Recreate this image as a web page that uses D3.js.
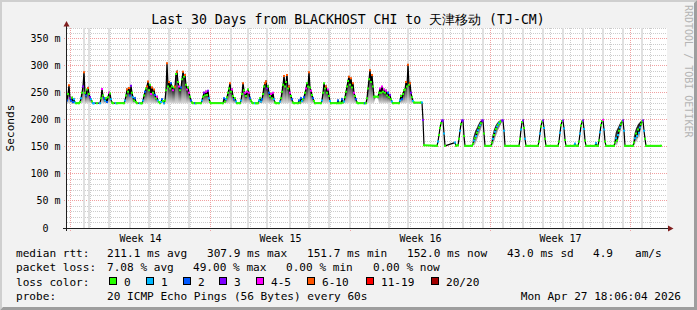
<!DOCTYPE html>
<html><head><meta charset="utf-8">
<script src="https://cdn.jsdelivr.net/npm/d3@7/dist/d3.min.js"></script>
<style>
html,body{margin:0;padding:0;background:#f2f2f2;}
svg{display:block;}
text{font-family:"DejaVu Sans Mono",monospace;fill:#000;}
</style></head><body>
<svg id="c" width="697" height="310"></svg>
<script>
// ---------------- data ----------------
const title = "Last 30 Days from BLACKHOST CHI to 天津移动 (TJ-CM)";
const yTicks = [0, 50, 100, 150, 200, 250, 300, 350];
const lossLevels = [0, 1, 2, 3, 5, 10, 19, 20];
const lossLabels = ["0", "1", "2", "3", "4-5", "6-10", "11-19", "20/20"];
const lossColors = ["#26ff00", "#00b8ff", "#0059ff", "#7e00ff", "#ff00ff", "#ff5500", "#ff0000", "#a10000"];

// rows of the RRA: one step = 72 minutes since graph start
const step = [
  0,1,2,3,4,5,6,7,8,9,12,
  13,14,15,16,17,18,19,20,21,22,23,24,25,26,27,30,33,
  34,35,36,37,38,39,40,41,42,43,44,45,46,49,50,57,
  58,59,60,61,62,63,64,65,66,67,68,69,70,73,74,75,
  76,77,78,79,80,81,82,83,84,85,86,87,88,89,90,91,92,93,94,95,96,97,98,
  99,100,101,102,103,104,105,106,107,108,109,110,111,112,113,114,115,116,117,118,119,120,121,122,123,124,125,126,128,129,134,
  135,136,137,138,139,140,141,142,143,144,156,
  157,158,159,160,161,162,163,164,165,166,167,168,169,170,173,
  174,175,176,177,178,179,180,181,182,183,184,185,186,188,189,191,192,193,194,195,
  196,197,198,199,200,201,202,203,204,205,206,207,208,209,212,
  213,214,215,216,217,218,219,220,221,222,223,224,225,226,227,231,232,233,234,235,236,237,
  238,239,240,241,242,243,244,245,246,247,248,254,
  255,256,257,258,259,260,261,262,263,264,270,271,272,273,274,275,276,277,
  278,279,280,281,282,283,284,285,286,287,288,289,290,291,297,298,299,
  300,301,302,303,304,305,306,307,308,311,312,313,314,315,316,317,318,319,320,321,322,323,324,325,326,332,
  333,334,335,336,337,338,339,340,341,342,343,344,345,346,347,354,355,356,357,
  370,371,372,373,374,375,376,377,378,
  388,389,391,392,393,394,395,396,397,398,
  405,406,407,408,409,410,411,412,413,414,415,416,417,418,
  424,425,426,427,428,429,430,431,432,433,434,435,436,437,438,
  452,453,454,455,456,457,458,459,
  471,472,473,474,475,476,477,478,479,
  491,492,493,494,495,496,497,498,499,507,508,509,
  511,512,513,514,515,516,517,518,519,528,529,530,
  531,532,533,534,535,536,537,538,539,
  547,548,549,550,551,552,553,554,555,556,557,558,
  566,567,568,569,570,571,572,573,574,575,576,577,578,579,594
];
// median rtt (ms)
const median = [
  236,248,264,240,236,241,233,238,232,231,231,
  233,240,250,262,288,250,245,256,259,248,242,238,234,231,231,231,231,
  240,257,245,240,236,240,233,242,250,249,238,232,231,231,231,231,
  236,245,256,252,259,245,263,250,242,236,240,233,231,231,231,231,
  236,245,252,258,262,271,255,265,248,260,250,256,246,240,243,236,233,231,233,238,235,231,236,
  255,305,262,270,258,268,262,255,260,262,285,289,270,262,255,260,275,289,280,283,265,256,260,250,243,236,232,231,231,231,231,
  236,243,250,245,252,246,254,240,233,231,231,
  240,234,238,242,250,258,268,252,256,244,238,240,234,231,231,
  236,248,268,255,250,244,252,256,250,240,236,232,231,231,231,231,236,240,234,238,
  248,262,268,271,258,262,250,244,248,240,250,238,232,231,231,
  234,240,252,265,281,262,270,283,258,262,250,244,238,232,231,231,236,232,240,235,238,242,
  250,258,268,262,288,260,254,246,240,235,231,231,
  236,250,268,258,262,250,256,244,235,231,231,236,231,232,231,238,232,234,
  242,252,262,272,280,265,277,260,268,250,244,238,232,231,231,231,231,
  240,258,275,292,270,283,262,243,243,243,250,258,250,262,252,256,250,254,245,250,242,246,238,234,231,231,
  236,244,238,248,255,256,270,262,302,265,268,250,242,235,232,232,232,200,153,
  152,160,172,185,194,199,199,175,152,
  158,152,153,165,180,192,199,199,170,152,
  152,156,162,166,170,176,181,186,190,194,199,199,175,152,
  152,158,165,172,178,183,188,191,194,196,198,199,199,180,152,
  152,165,182,196,199,185,165,152,
  152,160,175,188,197,199,185,165,152,
  152,160,176,190,198,199,184,163,152,152,156,152,
  152,160,175,189,197,199,183,162,152,152,157,152,
  152,162,177,190,198,200,182,160,152,
  152,158,166,162,172,180,186,192,197,199,180,152,
  152,158,166,175,170,182,176,186,192,197,199,180,165,152,152
];
// lost pings out of 20
const loss = [
  2,0,6,3,2,0,2,1,1,0,0,
  0,1,0,3,6,0,2,0,6,0,3,1,0,1,1,0,1,
  0,4,0,2,1,0,2,0,4,0,1,0,0,1,0,0,
  1,0,6,0,6,2,3,0,1,0,2,0,0,1,0,0,
  1,0,2,0,6,6,0,0,4,6,0,6,2,0,4,1,0,0,1,2,0,1,0,
  0,6,0,6,0,2,0,4,0,6,0,6,0,4,0,2,0,6,0,6,0,4,0,4,0,2,0,0,2,0,0,
  1,0,3,0,4,0,3,1,0,0,0,
  2,0,1,0,0,0,6,0,4,0,2,0,1,0,0,
  1,0,6,0,4,0,4,0,4,2,0,0,0,1,0,0,1,0,1,2,
  0,0,6,6,3,0,2,0,4,0,4,1,0,0,0,
  1,0,0,0,6,0,0,6,0,6,4,0,2,0,0,0,2,0,2,1,0,2,
  0,4,0,0,6,0,4,0,2,0,0,0,
  1,0,0,0,6,0,4,0,1,0,0,2,0,0,0,2,0,1,
  0,0,0,0,6,0,6,0,6,4,0,2,0,0,0,2,0,
  0,0,0,6,0,6,0,0,0,0,0,4,0,4,0,4,0,4,0,2,0,3,0,1,0,0,
  1,0,2,0,0,0,6,0,6,0,6,3,0,1,0,0,1,3,0,
  0,1,0,0,0,3,3,1,0,
  1,0,0,0,1,0,3,3,0,0,
  0,0,1,0,1,0,1,0,1,0,3,3,0,0,
  0,0,1,0,1,0,1,0,1,0,0,3,3,1,0,
  0,0,1,0,3,0,1,0,
  0,0,1,0,0,3,1,0,0,
  0,0,1,0,0,3,1,0,0,0,1,0,
  0,0,1,0,0,3,1,0,0,0,1,0,
  0,0,1,0,0,4,1,0,0,
  0,0,1,0,1,0,1,0,0,3,1,0,
  0,0,1,0,1,0,1,1,0,0,3,1,0,0,0
];
// fastest ping of the 20 (ms)
const pingMin = [
  231,231,231,231,231,231,231,231,231,231,231,
  231,231,231,231,231,231,231,231,231,231,231,231,231,231,231,231,231,
  231,231,231,231,231,231,231,231,231,231,231,231,231,231,231,231,
  231,231,231,231,231,231,231,231,231,231,231,231,231,231,231,231,
  231,231,231,231,231,231,231,231,231,231,231,231,231,231,231,231,231,231,231,231,231,231,231,
  231,231,231,231,231,231,231,231,231,231,231,231,231,231,231,231,231,231,231,231,231,231,231,231,231,231,231,231,231,231,231,
  231,231,231,231,231,231,231,231,231,231,231,
  231,231,231,231,231,231,231,231,231,231,231,231,231,231,231,
  231,231,231,231,231,231,231,231,231,231,231,231,231,231,231,231,231,231,231,231,
  231,231,231,231,231,231,231,231,231,231,231,231,231,231,231,
  231,231,231,231,231,231,231,231,231,231,231,231,231,231,231,231,231,231,231,231,231,231,
  231,231,231,231,231,231,231,231,231,231,231,231,
  231,231,231,231,231,231,231,231,231,231,231,231,231,231,231,231,231,231,
  231,231,231,231,231,231,231,231,231,231,231,231,231,231,231,231,231,
  231,231,231,231,231,231,231,231,243,243,231,231,231,231,231,231,231,231,231,231,231,231,231,231,231,231,
  231,231,231,231,231,231,231,231,231,231,231,231,231,231,232,232,232,200,152,
  152,160,172,185,194,199,199,175,152,
  158,152,153,165,180,192,199,199,170,152,
  152,152,152,154,158,162,168,172,177,182,190,199,175,152,
  152,152,153,158,164,170,175,180,184,188,192,196,199,180,152,
  152,165,182,196,199,185,165,152,
  152,160,175,188,197,199,185,165,152,
  152,160,176,190,198,199,184,163,152,152,156,152,
  152,160,175,189,197,199,183,162,152,152,157,152,
  152,162,177,190,198,200,182,160,152,
  152,152,154,152,160,168,175,182,190,199,180,152,
  152,152,154,162,158,170,164,175,183,192,199,180,165,152,152
];
// slowest ping of the 20 (ms)
const pingMax = [
  238,250,266,242,238,242,234,239,232,231,231,
  234,242,252,265,291,252,247,258,262,250,244,239,235,231,231,231,231,
  242,260,247,242,237,242,234,244,253,251,239,233,231,231,231,231,
  237,247,258,254,262,247,266,252,243,237,241,234,231,231,231,231,
  237,247,254,260,265,274,257,268,250,263,252,258,248,241,245,237,234,231,234,239,236,231,237,
  258,309,265,273,260,270,264,257,262,265,288,292,272,264,257,262,278,292,282,286,267,258,262,252,244,237,233,231,231,231,231,
  237,244,252,246,254,247,256,241,234,231,231,
  241,235,239,243,252,260,271,254,258,245,239,241,235,231,231,
  237,250,271,257,252,245,254,258,252,241,237,233,231,231,231,231,237,241,235,239,
  250,264,271,274,260,264,252,245,250,241,252,239,233,231,231,
  235,241,254,267,284,264,272,286,260,264,252,245,239,233,231,231,237,233,241,236,239,243,
  252,260,270,264,291,262,256,247,241,236,231,231,
  237,252,270,260,264,252,258,245,236,231,231,237,231,233,231,239,233,235,
  243,254,264,274,283,267,280,262,270,252,245,239,233,231,231,231,231,
  241,260,277,295,272,286,264,245,243,243,252,260,252,264,254,258,252,256,247,252,243,248,239,235,231,231,
  237,245,239,250,257,258,273,264,305,267,271,252,243,236,232,232,232,200,153,
  152,160,172,185,194,199,199,175,152,
  158,152,153,165,180,192,199,199,170,152,
  152,165,172,178,182,186,190,194,197,199,200,199,175,152,
  152,168,175,182,187,191,194,196,198,199,200,200,199,180,152,
  152,165,182,196,199,185,165,152,
  152,160,175,188,197,199,185,165,152,
  152,160,176,190,198,199,184,163,152,152,156,152,
  152,160,175,189,197,199,183,162,152,152,157,152,
  152,162,177,190,198,200,182,160,152,
  152,170,178,182,186,190,194,197,199,200,180,152,
  152,170,178,184,188,192,194,196,198,199,200,180,165,152,152
];
// rows where some pings were unknown (full-height grey columns)
const unknownSteps = [17,22,42,63,82,102,122,164,181,200,223,242,262,283,303,322,342,376,396,416,436,456,476,496,516,536,556,576];

const legendRtt = ["211.1 ms avg", "307.9 ms max", "151.7 ms min", "152.0 ms now", "43.0 ms sd", "4.9", "am/s"];
const legendLoss = ["7.08 % avg", "49.00 % max", "0.00 % min", "0.00 % now"];
const probeText = "20 ICMP Echo Pings (56 Bytes) every 60s";
const stampText = "Mon Apr 27 18:06:04 2026";

// ---------------- drawing ----------------
const W = 697, H = 310;
const plotL = 67, plotR = 667, plotT = 28, plotB = 228;
const stepMs = 72 * 60 * 1000;
const start = Date.UTC(2026, 2, 28, 19, 48);
const end = start + 30 * 86400000;
const x = d3.scaleUtc().domain([new Date(start), new Date(end)]).range([plotL, plotR]);
const y = d3.scaleLinear().domain([0, 370]).range([plotB, plotT]);
const tAt = s => new Date(start + s * stepMs);
const lossClass = l => lossLevels.findIndex(v => l <= v);

const svg = d3.select("#c");
svg.append("rect").attr("width", W).attr("height", H).attr("fill", "#f2f2f2");
svg.append("path").attr("d", `M0,${H} L2,${H-2} L2,2 L${W-2},2 L${W},0 L0,0 Z`).attr("fill", "#cfcfcf");
svg.append("path").attr("d", `M3,${H-3} L${W-3},${H-3} L${W-3},3 L${W},0 L${W},${H} L0,${H} Z`).attr("fill", "#9e9e9e");
svg.append("rect").attr("x", plotL).attr("y", plotT).attr("width", plotR - plotL).attr("height", plotB - plotT).attr("fill", "#fff");

const grid = svg.append("g");
const minorCol = "#cccccc", majorCol = "#f0a0a0";
d3.range(10, 371, 10).filter(v => v % 50 !== 0).forEach(v => {
  const yy = Math.floor(y(v)) + 0.5;
  grid.append("line").attr("x1", plotL).attr("x2", plotR).attr("y1", yy).attr("y2", yy)
    .attr("stroke", minorCol).attr("stroke-dasharray", "1,1");
});
const days = d3.utcDay.range(new Date(start), new Date(end));
days.filter(d => d.getUTCDay() !== 0).forEach(d => {
  const xx = Math.floor(x(d)) + 0.5;
  grid.append("line").attr("x1", xx).attr("x2", xx).attr("y1", plotT).attr("y2", plotB + 2)
    .attr("stroke", minorCol).attr("stroke-dasharray", "1,1");
});
yTicks.filter(v => v > 0).forEach(v => {
  const yy = Math.floor(y(v)) + 0.5;
  grid.append("line").attr("x1", plotL - 3).attr("x2", plotR).attr("y1", yy).attr("y2", yy)
    .attr("stroke", majorCol).attr("stroke-dasharray", "1,1");
});
const weeks = d3.utcSunday.range(new Date(start), new Date(end));
weeks.forEach(d => {
  const xx = Math.floor(x(d)) + 0.5;
  grid.append("line").attr("x1", xx).attr("x2", xx).attr("y1", plotT).attr("y2", plotB + 4)
    .attr("stroke", majorCol).attr("stroke-dasharray", "1,1");
});

const data = step.map((s, i) => ({t: tAt(s), m: median[i], l: loss[i], lo: pingMin[i], hi: pingMax[i]}));
svg.append("g").selectAll("rect").data(unknownSteps).join("rect")
  .attr("x", s => Math.floor(x(tAt(s))) - 1).attr("y", plotT).attr("width", 2).attr("height", plotB - plotT)
  .attr("fill", "#e0e0e0");

// smoke
const defs = svg.append("defs");
const grad = defs.append("linearGradient").attr("id", "smoke").attr("x1", 0).attr("x2", 0).attr("y1", 0).attr("y2", 1);
grad.append("stop").attr("offset", "0%").attr("stop-color", "#000");
grad.append("stop").attr("offset", "40%").attr("stop-color", "#4a4a4a");
grad.append("stop").attr("offset", "100%").attr("stop-color", "#d8d8d8");
const smokeG = svg.append("g");
for (let i = 0; i < data.length - 1; i++) {
  const a = data[i], b = data[i + 1];
  if (a.hi <= a.lo && b.hi <= b.lo) continue;
  const pts = [[x(a.t), y(a.hi)], [x(b.t), y(b.hi)], [x(b.t), y(b.lo)], [x(a.t), y(a.lo)]];
  smokeG.append("path").attr("d", "M" + pts.join("L") + "Z").attr("fill", "url(#smoke)");
}

// median line
const line = d3.line().x(d => x(d.t)).y(d => y(d.m));
svg.append("path").datum(data).attr("d", line).attr("fill", "none").attr("stroke", "#000").attr("stroke-width", 1.2);
const medG = svg.append("g");
for (let i = 0; i < data.length - 1; i++) {
  const a = data[i], b = data[i + 1];
  const ca = lossClass(a.l), cb = lossClass(b.l);
  if (ca === cb && Math.abs(y(a.m) - y(b.m)) < 1.2) {
    medG.append("line").attr("x1", x(a.t)).attr("y1", y(a.m)).attr("x2", x(b.t)).attr("y2", y(b.m))
      .attr("stroke", lossColors[ca]).attr("stroke-width", 2);
  }
}
data.forEach(d => {
  medG.append("line").attr("x1", x(d.t) - 1).attr("x2", x(d.t) + 1).attr("y1", y(d.m)).attr("y2", y(d.m))
    .attr("stroke", lossColors[lossClass(d.l)]).attr("stroke-width", 2);
});

// axes
const axCol = "#1f1f1f", arrowCol = "#801f1f";
svg.append("line").attr("x1", 66.5).attr("x2", 66.5).attr("y1", plotB + 3).attr("y2", 25).attr("stroke", axCol);
svg.append("line").attr("x1", 63).attr("x2", plotR + 2).attr("y1", 228.5).attr("y2", 228.5).attr("stroke", axCol);
svg.append("path").attr("d", "M63.5,26.5 L66.5,21 L69.5,26.5 Z").attr("fill", arrowCol);
svg.append("path").attr("d", "M668,225.5 L673.5,228.5 L668,231.5 Z").attr("fill", arrowCol);

svg.append("g").selectAll("text").data(yTicks).join("text")
  .attr("x", v => v === 0 ? 60.5 - 12.04 : 60.5).attr("y", v => Math.floor(y(v)) + 4)
  .attr("text-anchor", "end").attr("font-size", "10px")
  .text(v => v === 0 ? "0" : v + " m");

weeks.map(d => new Date(+d + 3.5 * 86400000)).filter(d => d < new Date(end)).forEach(d => {
  svg.append("text").attr("x", x(d)).attr("y", 242).attr("text-anchor", "middle").attr("font-size", "10px")
    .text("Week " + d3.utcFormat("%V")(d));
});

svg.append("text").attr("x", 348).attr("y", 24).attr("text-anchor", "middle").attr("font-size", "13.2px").text(title);
svg.append("text").attr("transform", "translate(14,128) rotate(-90)").attr("text-anchor", "middle")
  .attr("font-size", "11.1px").text("Seconds");
svg.append("text").attr("transform", "translate(685,5) rotate(90)").attr("font-size", "10px")
  .style("fill", "#b4b4b4").text("RRDTOOL / TOBI OETIKER");

const lf = "11.1px";
const lt = (xx, yy, s, anchor) => svg.append("text").attr("x", xx).attr("y", yy).attr("font-size", lf)
  .attr("text-anchor", anchor || "start").attr("xml:space", "preserve").text(s);
lt(16, 257, "median rtt:");
[107, 207, 307, 407, 507, 593, 635].forEach((xx, i) => lt(xx, 257, legendRtt[i]));
lt(16, 271.3, "packet loss:");
[107, 193, 286, 373].forEach((xx, i) => lt(xx, 271.3, legendLoss[i]));
lt(16, 285.6, "loss color:");
const boxX = [109, 146, 183, 219, 256, 307, 366, 431];
boxX.forEach((bx, i) => {
  svg.append("rect").attr("x", bx + 0.5).attr("y", 277.5).attr("width", 7).attr("height", 7)
    .attr("fill", lossColors[i]).attr("stroke", "#000");
  lt(bx + 15, 285.6, lossLabels[i]);
});
lt(16, 300, "probe:");
lt(107, 300, probeText);
lt(681, 300, stampText, "end");
</script>
</body></html>
